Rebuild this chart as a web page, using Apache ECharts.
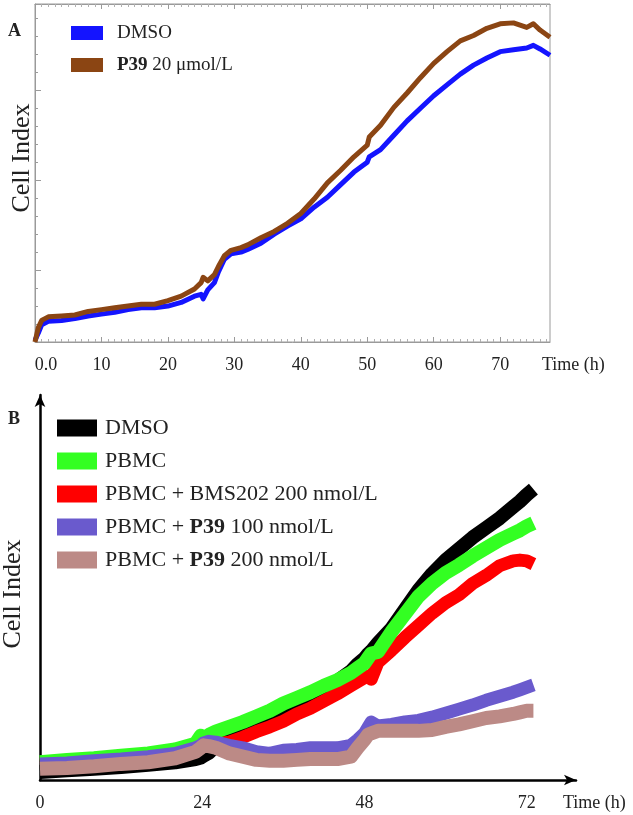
<!DOCTYPE html>
<html>
<head>
<meta charset="utf-8">
<script src="https://cdn.jsdelivr.net/npm/echarts@6/dist/echarts.min.js"></script>
<style>
    html, body { margin: 0; padding: 0; background: #fff; }
</style>
</head>
<body>
<div id="main" style="width:633px;height:815px;"></div>
<script>
    // ---- panel A ----
    var namesA = ['DMSO', 'P39 20 μmol/L'];
    var timeA = [0, 0.5, 1, 2, 4, 6, 8, 10, 12, 14, 16, 18, 20, 22, 24, 25, 25.3, 26, 27, 27.6,
        28.5, 29.5, 31, 32, 34, 36, 38, 40, 42, 44, 46, 48, 50, 50.3, 52, 54, 56, 58, 60, 62,
        64, 66, 68, 70, 72, 74, 75, 76, 77.5];
    var dmsoA = [0.22, 0.30, 0.39, 0.43, 0.44, 0.46, 0.49, 0.51, 0.53, 0.56, 0.58, 0.58, 0.60, 0.64, 0.71, 0.73, 0.68, 0.78, 0.86, 0.98,
        1.12, 1.18, 1.20, 1.23, 1.30, 1.40, 1.49, 1.57, 1.70, 1.81, 1.95, 2.09, 2.20, 2.26, 2.34, 2.50, 2.66, 2.80, 2.94, 3.06,
        3.18, 3.28, 3.36, 3.43, 3.45, 3.47, 3.50, 3.46, 3.39];
    var p39A = [0.20, 0.36, 0.44, 0.48, 0.49, 0.50, 0.54, 0.56, 0.58, 0.60, 0.62, 0.62, 0.66, 0.71, 0.79, 0.86, 0.92, 0.88, 0.95, 1.04,
        1.16, 1.22, 1.25, 1.28, 1.36, 1.43, 1.52, 1.63, 1.79, 1.97, 2.11, 2.26, 2.39, 2.48, 2.61, 2.81, 2.97, 3.14, 3.30, 3.43,
        3.55, 3.61, 3.69, 3.74, 3.75, 3.70, 3.74, 3.67, 3.59];
    var ticksA = [0, 10, 20, 30, 40, 50, 60, 70];
    var majorYA = [1, 2, 3];
    var minorYA = [0.2, 0.4, 0.6, 0.8, 1.0, 1.2, 1.4, 1.6, 1.8, 2.0, 2.2, 2.4, 2.6, 2.8, 3.0, 3.2, 3.4, 3.6, 3.8];

    // ---- panel B ----
    var namesB = ['DMSO', 'PBMC', 'PBMC + BMS202 200 nmol/L', 'PBMC + P39 100 nmol/L', 'PBMC + P39 200 nmol/L'];
    var timeB = [0, 4, 8, 12, 16, 20, 23, 23.8, 24.2, 25, 26, 28, 30, 32, 34, 36, 38, 40, 42, 44,
        46, 47, 48, 48.5, 49, 50, 52, 54, 56, 58, 60, 62, 64, 66, 68, 70, 71, 72, 73];
    var dmsoB = [0.10, 0.12, 0.14, 0.16, 0.19, 0.22, 0.26, 0.28, 0.30, 0.34, 0.42, 0.56, 0.62, 0.69, 0.76, 0.83, 0.92, 1.02, 1.12, 1.23,
        1.35, 1.44, 1.51, 1.56, 1.60, 1.70, 1.88, 2.12, 2.36, 2.56, 2.73, 2.87, 3.01, 3.13, 3.25, 3.39, 3.46, 3.54, 3.61];
    var pbmcB = [0.22, 0.25, 0.27, 0.30, 0.33, 0.38, 0.45, 0.55, 0.52, 0.56, 0.60, 0.66, 0.72, 0.79, 0.86, 0.95, 1.02, 1.09, 1.17, 1.24,
        1.33, 1.39, 1.45, 1.51, 1.57, 1.59, 1.84, 2.06, 2.28, 2.44, 2.57, 2.67, 2.78, 2.88, 2.98, 3.06, 3.10, 3.15, 3.19];
    var bmsB = [0.20, 0.21, 0.24, 0.26, 0.29, 0.33, 0.40, 0.42, 0.43, 0.44, 0.45, 0.47, 0.53, 0.60, 0.66, 0.73, 0.82, 0.89, 0.98, 1.07,
        1.17, 1.22, 1.27, 1.29, 1.25, 1.46, 1.61, 1.77, 1.92, 2.07, 2.20, 2.30, 2.44, 2.54, 2.66, 2.72, 2.73, 2.72, 2.68];
    var p39lowB = [0.20, 0.21, 0.24, 0.26, 0.29, 0.33, 0.40, 0.43, 0.46, 0.48, 0.47, 0.43, 0.40, 0.35, 0.33, 0.37, 0.38, 0.40, 0.40, 0.40,
        0.43, 0.50, 0.58, 0.65, 0.72, 0.67, 0.69, 0.72, 0.74, 0.78, 0.83, 0.88, 0.93, 0.99, 1.04, 1.09, 1.12, 1.15, 1.18];
    var p39highB = [0.14, 0.15, 0.17, 0.20, 0.22, 0.27, 0.35, 0.40, 0.43, 0.42, 0.40, 0.33, 0.29, 0.25, 0.24, 0.24, 0.25, 0.26, 0.26, 0.26,
        0.29, 0.40, 0.50, 0.56, 0.58, 0.61, 0.61, 0.61, 0.61, 0.62, 0.66, 0.69, 0.73, 0.77, 0.79, 0.82, 0.84, 0.86, 0.86];
    var ticksB = [0, 24, 48, 72];

    var serif = '"Liberation Serif", "Times New Roman", serif';

    function pairs(xs, ys) {
        return xs.map(function (x, i) { return [x, ys[i]]; });
    }
    function boldP39(name) {
        return name.replace('P39', '{b|P39}');
    }
    function lineSeries(name, xi, yi, xs, ys, color, width) {
        return {
            name: name,
            type: 'line',
            xAxisIndex: xi,
            yAxisIndex: yi,
            showSymbol: false,
            symbol: 'none',
            color: color,
            lineStyle: { color: color, width: width, join: 'round' },
            emphasis: { disabled: true },
            data: pairs(xs, ys)
        };
    }

    var colorsB = ['#000000', '#33ff22', '#ff0000', '#6a5acd', '#bc8a86'];

    var myChart = echarts.init(document.getElementById('main'));
    var grayAxis = { lineStyle: { color: '#9a9a9a', width: 1 } };
    // plain filled swatches, no stroke borrowed from the thick lines
    var flatSwatch = { borderWidth: 0, borderColor: 'transparent' };

    var option = {
        animation: false,
        backgroundColor: '#fff',
        textStyle: { fontFamily: serif, color: '#222' },
        grid: [
            { left: 35, top: 4, width: 515, height: 338, show: true, borderColor: '#9a9a9a', borderWidth: 1 },
            { left: 40, top: 395, width: 536, height: 385 }
        ],
        legend: [
            {
                data: namesA,
                left: 66, top: 18, orient: 'vertical',
                icon: 'rect', itemWidth: 32, itemHeight: 14, itemGap: 12,
                itemStyle: flatSwatch,
                lineStyle: { width: 0 },
                formatter: boldP39,
                textStyle: {
                    fontFamily: serif, fontSize: 19, lineHeight: 20, color: '#222', padding: [0, 0, 0, 9],
                    rich: { b: { fontFamily: serif, fontSize: 19, fontWeight: 'bold', color: '#222' } }
                }
            },
            {
                // the DMSO name is shared with panel A, so its swatch colour is given here
                data: namesB.map(function (n, i) {
                    return { name: n, icon: 'rect', itemStyle: { color: colorsB[i], borderWidth: 0, borderColor: 'transparent' } };
                }),
                left: 52, top: 412, orient: 'vertical',
                icon: 'rect', itemWidth: 40, itemHeight: 17, itemGap: 11,
                itemStyle: flatSwatch,
                lineStyle: { width: 0 },
                formatter: boldP39,
                textStyle: {
                    fontFamily: serif, fontSize: 22, lineHeight: 22, color: '#222', padding: [0, 0, 0, 3],
                    rich: { b: { fontFamily: serif, fontSize: 22, fontWeight: 'bold', color: '#222' } }
                }
            }
        ],
        xAxis: [
            {
                type: 'value', gridIndex: 0, min: 0, max: 77.5, interval: 10,
                name: 'Time (h)', nameLocation: 'end', nameGap: -8,
                nameTextStyle: { fontFamily: serif, fontSize: 18, color: '#222', align: 'left', verticalAlign: 'top', padding: [14, 0, 0, 0] },
                axisLine: grayAxis,
                axisTick: { show: true, inside: true, length: 5, customValues: ticksA, lineStyle: { color: '#9a9a9a' } },
                minorTick: { show: true, splitNumber: 10, length: 3, lineStyle: { color: '#b0b0b0' } },
                splitLine: { show: false },
                axisLabel: {
                    customValues: ticksA, margin: 14, fontSize: 18, fontFamily: serif, color: '#222',
                    formatter: function (v) { return v === 0 ? '{z|0.0}' : String(v); },
                    rich: { z: { fontSize: 18, fontFamily: serif, color: '#222', padding: [0, 0, 0, 22] } }
                }
            },
            {
                type: 'value', gridIndex: 0, min: 0, max: 77.5, interval: 10, position: 'top',
                axisLine: grayAxis,
                axisTick: { show: true, inside: true, length: 5, customValues: ticksA, lineStyle: { color: '#9a9a9a' } },
                minorTick: { show: true, splitNumber: 10, length: 3, lineStyle: { color: '#b0b0b0' } },
                splitLine: { show: false },
                axisLabel: { show: false }
            },
            {
                type: 'value', gridIndex: 1, min: 0, max: 79.3,
                name: 'Time (h)', nameLocation: 'end', nameGap: -13,
                nameTextStyle: { fontFamily: serif, fontSize: 18, color: '#222', align: 'left', verticalAlign: 'top', padding: [14, 0, 0, 0] },
                axisLine: { symbol: ['none', 'arrow'], symbolSize: [8, 12], lineStyle: { color: '#000', width: 2.5 } },
                axisTick: { show: false },
                splitLine: { show: false },
                axisLabel: { customValues: ticksB, margin: 14, fontSize: 18, fontFamily: serif, color: '#222' }
            }
        ],
        yAxis: [
            {
                type: 'value', gridIndex: 0, min: 0.2, max: 3.96,
                axisLine: grayAxis,
                axisTick: { show: true, inside: true, length: 3, customValues: minorYA, lineStyle: { color: '#9a9a9a' } },
                splitLine: { show: false },
                axisLabel: { show: false }
            },
            {
                type: 'value', gridIndex: 0, min: 0.2, max: 3.96, position: 'left',
                axisLine: { show: false },
                axisTick: { show: true, inside: true, length: 6, customValues: majorYA, lineStyle: { color: '#9a9a9a' } },
                splitLine: { show: false },
                axisLabel: { show: false }
            },
            {
                type: 'value', gridIndex: 1, min: 0, max: 4.78,
                axisLine: { symbol: ['none', 'arrow'], symbolSize: [8, 12], lineStyle: { color: '#000', width: 2.5 } },
                axisTick: { show: false },
                splitLine: { show: false },
                axisLabel: { show: false }
            }
        ],
        graphic: [
            { type: 'text', left: 8, top: 22, style: { text: 'A', font: 'bold 18px ' + serif, fill: '#222' } },
            { type: 'text', left: 8, top: 410, style: { text: 'B', font: 'bold 18px ' + serif, fill: '#222' } },
            { type: 'text', x: 22, y: 158, rotation: Math.PI / 2, style: { text: 'Cell Index', font: '26px ' + serif, fill: '#222', align: 'center', verticalAlign: 'middle' } },
            { type: 'text', x: 13, y: 594, rotation: Math.PI / 2, style: { text: 'Cell Index', font: '26px ' + serif, fill: '#222', align: 'center', verticalAlign: 'middle' } }
        ],
        series: [
            lineSeries(namesA[0], 0, 0, timeA, dmsoA, '#1414ff', 5),
            lineSeries(namesA[1], 0, 0, timeA, p39A, '#8b4513', 5),
            // B: drawn bottom to top as in the figure
            lineSeries(namesB[0], 2, 2, timeB, dmsoB, colorsB[0], 14),
            lineSeries(namesB[2], 2, 2, timeB, bmsB, colorsB[2], 13),
            lineSeries(namesB[1], 2, 2, timeB, pbmcB, colorsB[1], 14),
            lineSeries(namesB[3], 2, 2, timeB, p39lowB, colorsB[3], 13),
            lineSeries(namesB[4], 2, 2, timeB, p39highB, colorsB[4], 14)
        ]
    };
    myChart.setOption(option);
</script>
</body>
</html>
